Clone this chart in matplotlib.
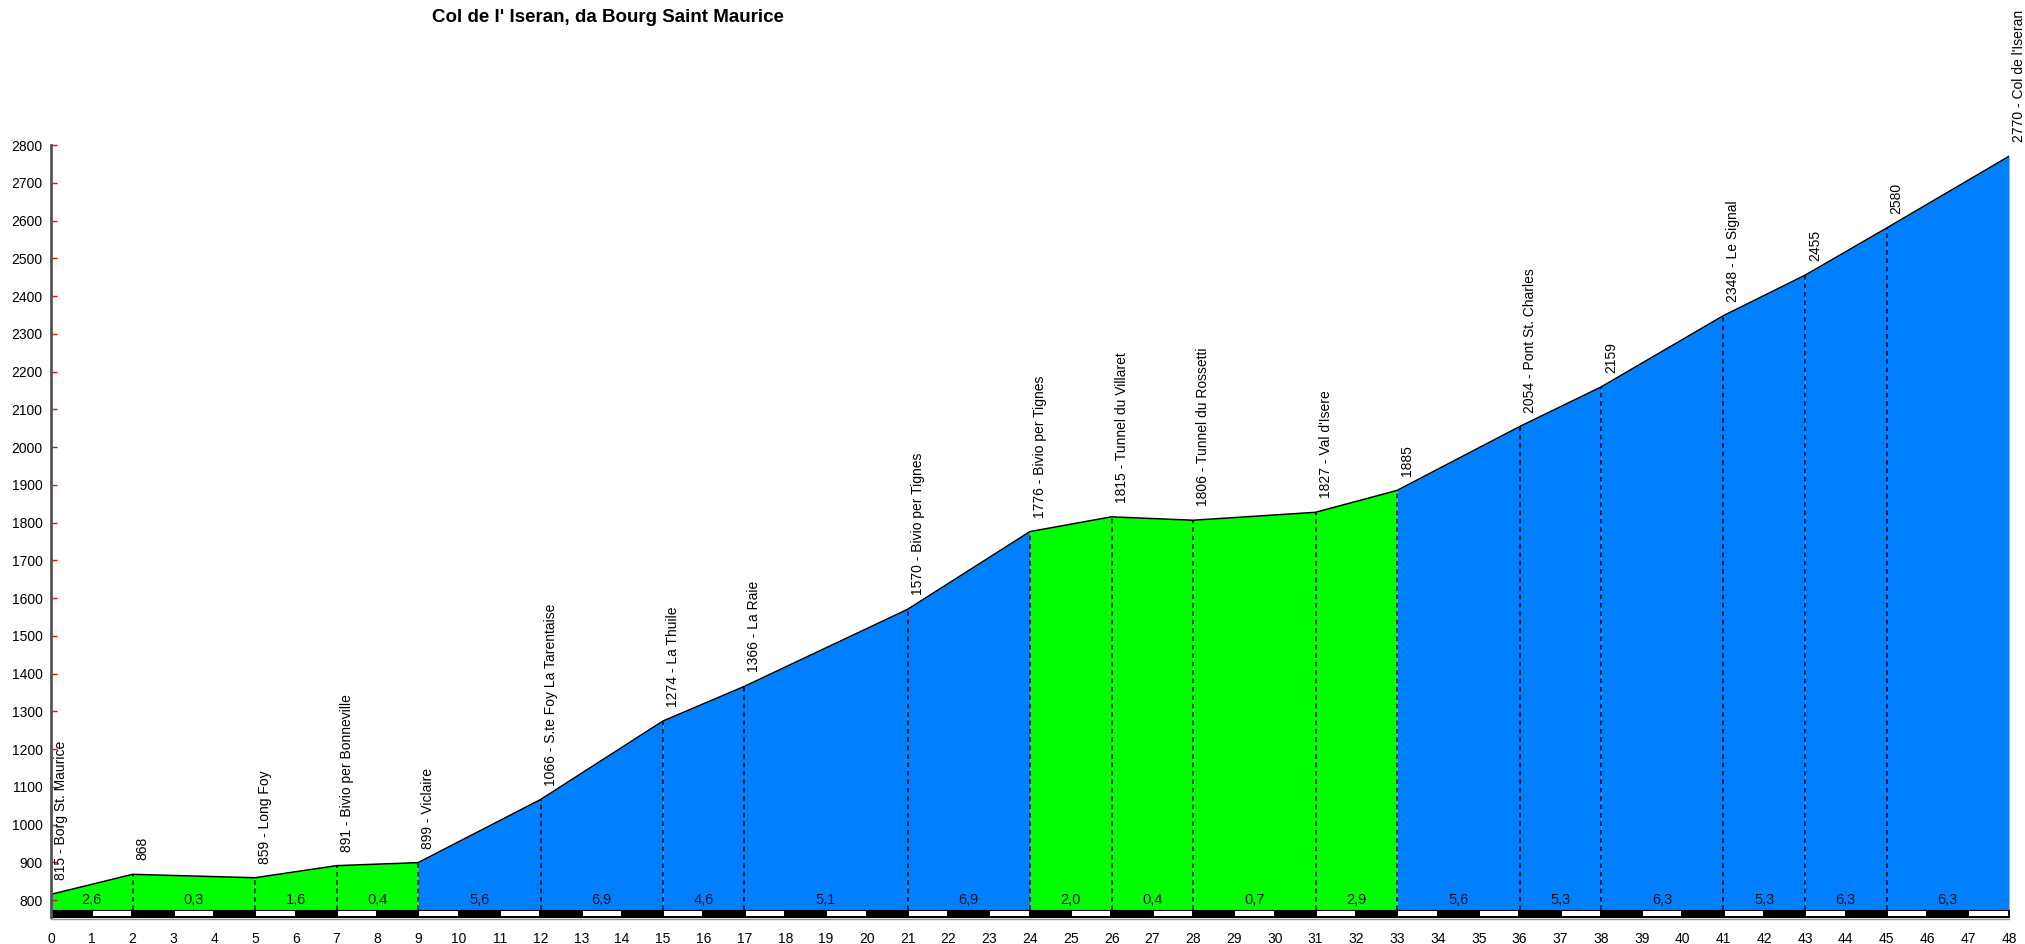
import matplotlib
matplotlib.use("Agg")
from matplotlib import pyplot as plt
from matplotlib.patches import Rectangle

plt.rcParams['font.family'] = ['Liberation Sans', 'DejaVu Sans']

# profile points (km, altitude, place)
km = [0, 2, 5, 7, 9, 12, 15, 17, 21, 24, 26, 28, 31, 33, 36, 38, 41, 43, 45, 48]
alt = [815, 868, 859, 891, 899, 1066, 1274, 1366, 1570, 1776, 1815, 1806, 1827, 1885,
       2054, 2159, 2348, 2455, 2580, 2770]
places = ["Borg St. Maurice", "", "Long Foy", "Bivio per Bonneville", "Viclaire",
          "S.te Foy La Tarentaise", "La Thuile", "La Raie", "Bivio per Tignes",
          "Bivio per Tignes", "Tunnel du Villaret", "Tunnel du Rossetti", "Val d'Isere",
          "", "Pont St. Charles", "", "Le Signal", "", "", "Col de l'Iseran"]
# average gradient of each stretch (as printed)
grad = ["2,6", "0,3", "1,6", "0,4", "5,6", "6,9", "4,6", "5,1", "6,9", "2,0",
        "0,4", "0,7", "2,9", "5,6", "5,3", "6,3", "5,3", "6,3", "6,3"]

yticks = list(range(800, 2900, 100))
xticks = list(range(0, 49))

base = 773.5
strip_lo = 755

fig = plt.figure(figsize=(20.25, 9.44), dpi=100)
ax = fig.add_axes([51 / 2025, 27 / 944, 1958 / 2025, 772 / 944])

for i in range(len(km) - 1):
    g = float(grad[i].replace(",", "."))
    col = "#00ff00" if g < 3 else "#0080ff"
    ax.fill_between([km[i], km[i + 1]], [alt[i], alt[i + 1]], base, color=col, lw=0)
    ax.text((km[i] + km[i + 1]) / 2, base + 7, grad[i], ha="center", va="bottom",
            fontsize=10.5, color="#111111")

ax.plot(km, alt, color="black", lw=1.1)

for i in range(1, len(km) - 1):
    ax.plot([km[i], km[i]], [base, alt[i]], color="black", lw=1.1, ls=(0, (3, 2.5)))

for i in range(len(km)):
    lab = str(alt[i]) if places[i] == "" else "%d - %s" % (alt[i], places[i])
    ax.annotate(lab, (km[i], alt[i]), xytext=(10, 14), textcoords="offset pixels",
                rotation=90, ha="center", va="bottom", fontsize=10,
                annotation_clip=False)

# km strip
ax.add_patch(Rectangle((0, strip_lo), 48, base - strip_lo, facecolor="black",
                       edgecolor="black", lw=0.8, clip_on=False))
for k in range(1, 48, 2):
    ax.add_patch(Rectangle((k + 0.03, strip_lo + 2.2), 0.94, base - strip_lo - 4.4,
                           facecolor="white", edgecolor="none", clip_on=False))
ax.plot([0, 48], [strip_lo - 4, strip_lo - 4], color="#999999", lw=1, clip_on=False)

ax.set_xlim(0, 48)
ax.set_ylim(strip_lo, 2800)
ax.set_xticks(xticks)
ax.set_yticks(yticks)
ax.tick_params(axis="x", length=0, pad=11, labelsize=10)
ax.tick_params(axis="y", direction="in", length=4, width=1, color="red", pad=6,
               labelsize=10)
for s in ["top", "right", "bottom"]:
    ax.spines[s].set_visible(False)
ax.spines["left"].set_color("#555555")
ax.spines["left"].set_linewidth(2)

fig.text(432 / 2025, 1 - 18 / 944, "Col de l' Iseran, da Bourg Saint Maurice",
         fontsize=13.5, fontweight="bold", ha="left", va="center")

plt.savefig("out.png", dpi=100)
